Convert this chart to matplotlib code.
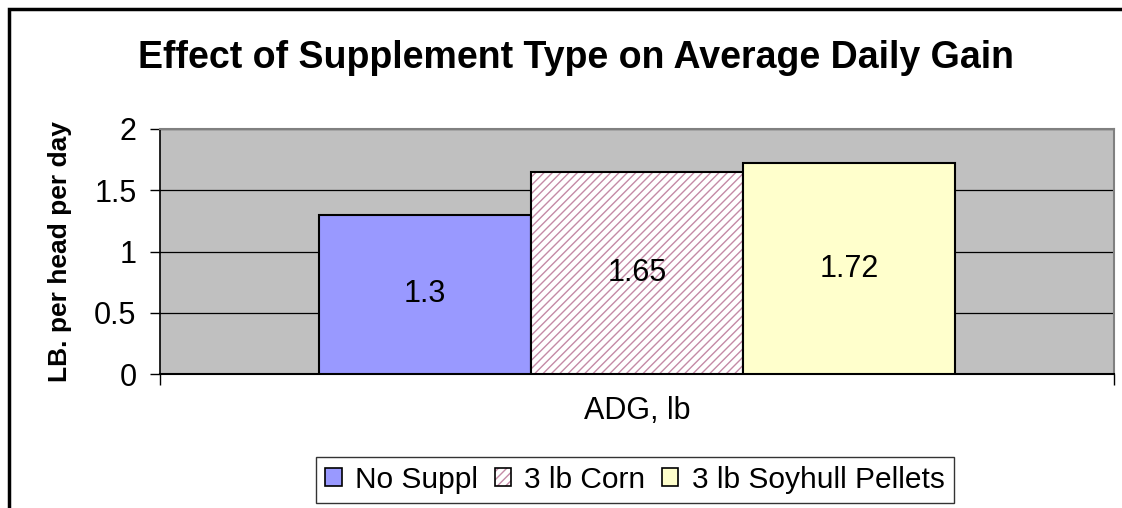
import matplotlib
matplotlib.use("Agg")
import matplotlib.pyplot as plt
from matplotlib.colors import to_rgba
from matplotlib.patches import Rectangle

plt.rcParams['font.family'] = ['Liberation Sans', 'DejaVu Sans']
plt.rcParams['hatch.linewidth'] = 1.0

# data
series = ["No Suppl", "3 lb Corn", "3 lb Soyhull Pellets"]
values = [1.3, 1.65, 1.72]
category = "ADG, lb"
yticks = [0, 0.5, 1, 1.5, 2]

colors = ['#9999FF', '#FFFFFF', '#FFFFCC']
hatches = [None, '////', None]
hatch_col = '#c48aa6'

fig = plt.figure(figsize=(11.22, 5.08), dpi=100)
ax = fig.add_axes([160 / 1122, 1 - 374 / 508, 954 / 1122, 245 / 508])
ax.set_facecolor('#C0C0C0')

w = 212 / 954
offsets = [-w, 0, w]
for name, v, off, c, h in zip(series, values, offsets, colors, hatches):
    bars = ax.bar(off, v, width=w, color=c, edgecolor='black', linewidth=1.5,
                  hatch=h, label=name, zorder=3)
    if h:
        # pink hatch lines, black outline
        for b in bars:
            b._hatch_color = to_rgba(hatch_col)
    ax.text(off, v / 2, f"{v:g}", ha='center', va='center', fontsize=22, zorder=4)

ax.set_xlim(-0.5, 0.5)
ax.set_ylim(0, 2)
ax.set_yticks(yticks)
ax.set_yticklabels([f"{t:g}" for t in yticks], fontsize=22)
ax.yaxis.grid(True, color='black', linewidth=0.9, zorder=0)
ax.set_axisbelow(True)
ax.tick_params(axis='y', direction='out', length=7, width=1, pad=10)
ax.set_xticks([-0.5, 0.5])
ax.set_xticklabels([])
ax.tick_params(axis='x', direction='out', length=8, width=1)
ax.text(0, -0.3, category, ha='center', va='center', fontsize=22,
        transform=ax.transData)

for s in ['top', 'right']:
    ax.spines[s].set_color('#808080')
    ax.spines[s].set_linewidth(1.5)
ax.spines['left'].set_color('black')
ax.spines['bottom'].set_color('black')
ax.spines['left'].set_linewidth(1.2)
ax.spines['bottom'].set_linewidth(1.5)

ax.set_ylabel("LB. per head per day", fontsize=19, fontweight='bold', labelpad=16)

fig.text(0.5 + 15 / 1122, 1 - 58 / 508, "Effect of Supplement Type on Average Daily Gain",
         ha='center', va='center', fontsize=27, fontweight='bold')

leg = fig.legend(loc='center', bbox_to_anchor=(635 / 1122, 1 - 480 / 508), ncol=3,
                 frameon=True, fancybox=False, edgecolor='black', fontsize=21.5,
                 handlelength=0.55, handleheight=0.55, handletextpad=0.45,
                 columnspacing=0.55, borderpad=0.3, borderaxespad=0)
leg.get_frame().set_linewidth(1.0)
for p, h in zip(leg.legend_handles, hatches):
    p.set_linewidth(1.2)
    if h:
        p._hatch_color = to_rgba(hatch_col)

# outer chart border (left and top visible)
fig.patches.append(Rectangle((9 / 1122, -0.1), 1.2, 1 - 9 / 508 + 0.1,
                             transform=fig.transFigure, fill=False,
                             edgecolor='black', linewidth=2.5))

fig.savefig("out.png", dpi=100)
